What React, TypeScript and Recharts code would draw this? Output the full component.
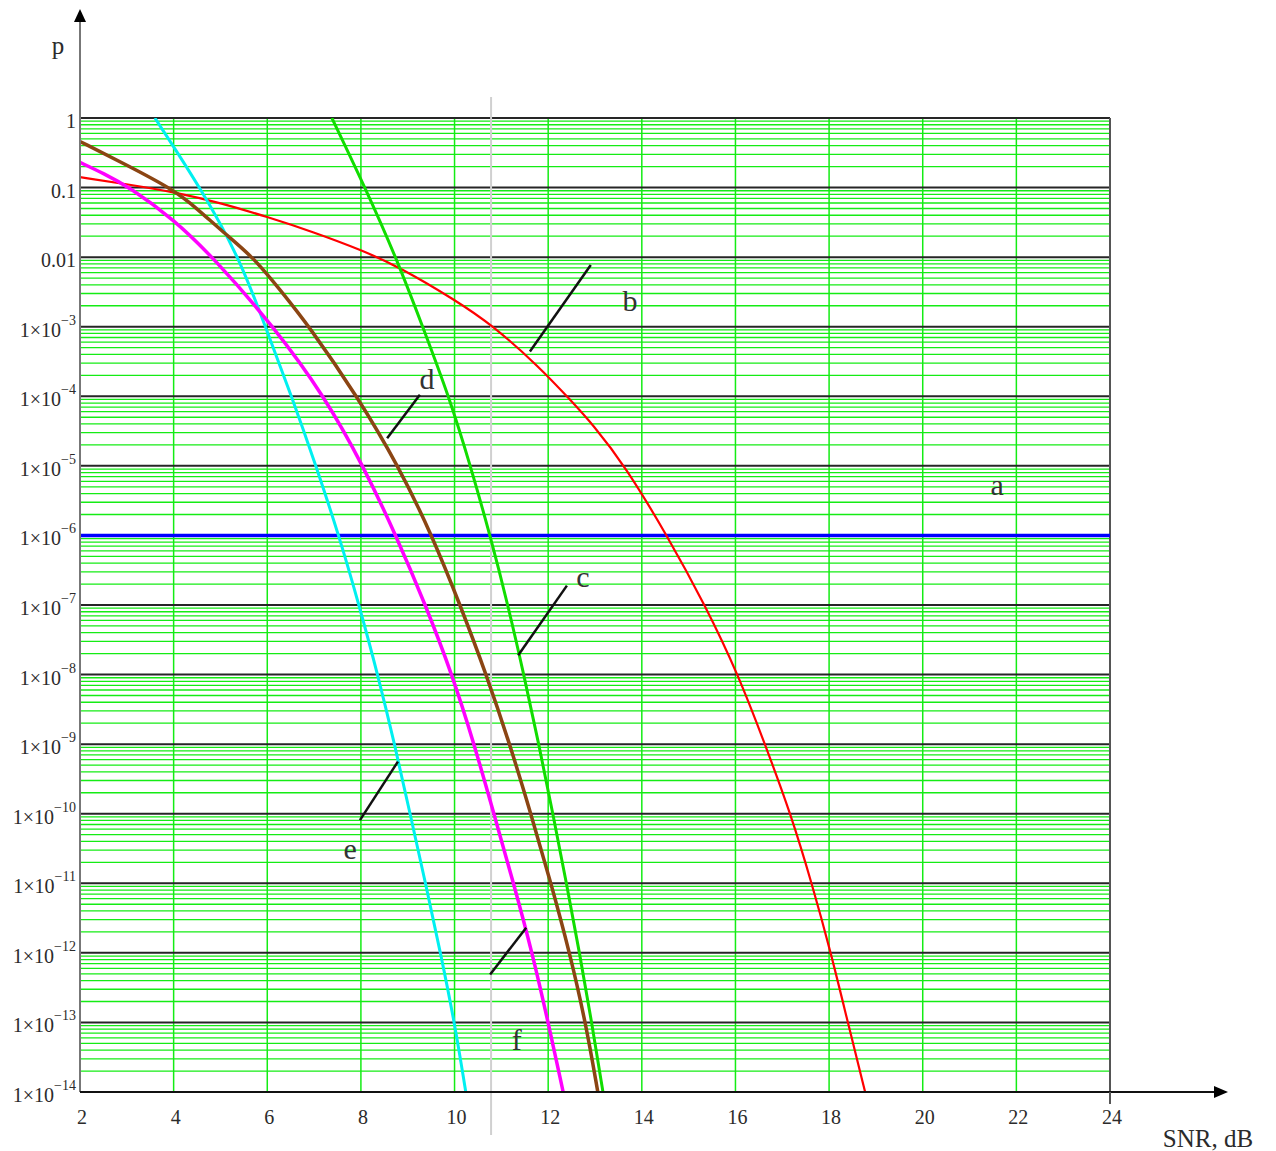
import React from "react";
import {
  LineChart,
  Line,
  XAxis,
  YAxis,
  CartesianGrid,
  ReferenceLine,
  ReferenceDot,
} from "recharts";

// chart size and plot box (page pixels)
const W = 1276;
const H = 1151;
const PLOT = { left: 80, top: 118, right: 1110, bottom: 1092 };
const XAXIS_H = 30;

const FONT = "'Liberation Serif', 'DejaVu Serif', serif";

// x ticks (SNR, dB)
const X_TICKS = [2, 4, 6, 8, 10, 12, 14, 16, 18, 20, 22, 24];

// y ticks (decades) and their labels [base, exponent]
const Y_TICKS = [1, 1e-1, 1e-2, 1e-3, 1e-4, 1e-5, 1e-6, 1e-7, 1e-8, 1e-9, 1e-10, 1e-11, 1e-12, 1e-13, 1e-14];
const Y_LABELS: [string, string][] = [
  ["1", ""], ["0.1", ""], ["0.01", ""],
  ["1×10", "−3"], ["1×10", "−4"], ["1×10", "−5"], ["1×10", "−6"],
  ["1×10", "−7"], ["1×10", "−8"], ["1×10", "−9"], ["1×10", "−10"],
  ["1×10", "−11"], ["1×10", "−12"], ["1×10", "−13"], ["1×10", "−14"],
];
const MINOR = [2, 3, 4, 5, 6, 7, 8, 9];

// curve a (red)
const SNR_A = [2, 3, 4.14, 5, 6, 6.98, 8.02, 8.84, 10, 10.8, 11.82, 12.47, 12.96, 13.64, 14.54, 15.35, 16.06, 16.63, 17.18, 17.63, 18.04, 18.4, 18.77];
const P_A = [1.41e-1, 1.12e-1, 8.3e-2, 6.0e-2, 3.8e-2, 2.3e-2, 1.26e-2, 7.1e-3, 2.45e-3, 1.07e-3, 2.6e-4, 8.9e-5, 3.9e-5, 1e-5, 1e-6, 1e-7, 1e-8, 1e-9, 1e-10, 1e-11, 1e-12, 1e-13, 1e-14];

// curve c (green)
const SNR_C = [7.38, 8.09, 8.75, 9.32, 9.88, 10.34, 10.76, 11.14, 11.48, 11.8, 12.1, 12.39, 12.67, 12.93, 13.17];
const P_C = [1, 1e-1, 1e-2, 1e-3, 1e-4, 1e-5, 1e-6, 1e-7, 1e-8, 1e-9, 1e-10, 1e-11, 1e-12, 1e-13, 1e-14];

// curve d (brown)
const SNR_D = [2, 3, 4, 4.5, 5.05, 5.7, 6.27, 6.9, 7.92, 8.8, 9.52, 10.12, 10.68, 11.18, 11.63, 12.06, 12.46, 12.8, 13.06];
const P_D = [4.6e-1, 2.1e-1, 9.3e-2, 5e-2, 2.3e-2, 1e-2, 3.4e-3, 1e-3, 1e-4, 1e-5, 1e-6, 1e-7, 1e-8, 1e-9, 1e-10, 1e-11, 1e-12, 1e-13, 1e-14];

// curve f (magenta)
const SNR_F = [2, 2.5, 3.07, 4, 4.84, 6.14, 7.22, 8.05, 8.75, 9.38, 9.95, 10.42, 10.84, 11.26, 11.66, 12.0, 12.32];
const P_F = [2.3e-1, 1.6e-1, 1e-1, 3.5e-2, 1e-2, 1e-3, 1e-4, 1e-5, 1e-6, 1e-7, 1e-8, 1e-9, 1e-10, 1e-11, 1e-12, 1e-13, 1e-14];

// curve e (cyan)
const SNR_E = [3.6, 4.57, 5.4, 5.96, 6.52, 7.04, 7.53, 7.96, 8.36, 8.72, 9.05, 9.38, 9.7, 10.0, 10.24];
const P_E = [1, 1e-1, 1e-2, 1e-3, 1e-4, 1e-5, 1e-6, 1e-7, 1e-8, 1e-9, 1e-10, 1e-11, 1e-12, 1e-13, 1e-14];

// required level (blue)
const SNR_REQ = [2, 24];
const P_REQ = [1e-6, 1e-6];

// curve labels and their pointer strokes
const LABELS = [
  { text: "a", snr: 21.59, p: 5.4e-6 },
  { text: "b", snr: 13.75, p: 2.4e-3 },
  { text: "c", snr: 12.74, p: 2.6e-7 },
  { text: "d", snr: 9.41, p: 1.8e-4 },
  { text: "e", snr: 7.77, p: 3.2e-11 },
  { text: "f", snr: 11.33, p: 5.6e-14 },
];
const POINTERS = [
  [[11.61, 4.4e-4], [12.91, 7.7e-3]],
  [[11.36, 1.9e-8], [12.4, 1.9e-7]],
  [[8.56, 2.5e-5], [9.26, 1.05e-4]],
  [[7.98, 8.1e-11], [8.79, 5.6e-10]],
  [[10.76, 4.9e-13], [11.53, 2.3e-12]],
];
const MARKER_SNR = 10.78;

const toRows = (xs: number[], ps: number[]) => xs.map((snr, i) => ({ snr, p: ps[i] }));

const minorLines = Y_TICKS.slice(1).flatMap((d) => MINOR.map((m) => m * d));

const YTick = (props: any) => {
  const { x, y, index } = props;
  const [base, exp] = Y_LABELS[index] ?? ["", ""];
  return (
    <text x={x + 4} y={y + 3} textAnchor="end" fontFamily={FONT} fontSize={20} fill="#2b2b2b" dominantBaseline="central">
      {base}
      {exp && (
        <tspan dy={-10} fontSize={14}>
          {exp}
        </tspan>
      )}
    </text>
  );
};

const XTick = (props: any) => {
  const { x, y, payload } = props;
  return (
    <text x={x + 2} y={y + 24} textAnchor="middle" fontFamily={FONT} fontSize={20} fill="#2b2b2b">
      {payload.value}
    </text>
  );
};

export default function App() {
  return (
    <div style={{ position: "absolute", left: 0, top: 0, width: W, height: H, background: "#fff" }}>
      <LineChart
        width={W}
        height={H}
        margin={{ top: PLOT.top, right: W - PLOT.right, bottom: H - PLOT.bottom - XAXIS_H, left: 0 }}
      >
        <CartesianGrid horizontal={false} stroke="#14ec14" strokeWidth={1.5} />
        <XAxis
          type="number"
          dataKey="snr"
          domain={[2, 24]}
          ticks={X_TICKS}
          interval={0}
          allowDataOverflow
          axisLine={false}
          tickLine={false}
          height={XAXIS_H}
          tick={<XTick />}
        />
        <YAxis
          type="number"
          scale="log"
          domain={[1e-14, 1]}
          ticks={Y_TICKS}
          interval={0}
          allowDataOverflow
          axisLine={false}
          tickLine={false}
          width={PLOT.left}
          tick={<YTick />}
        />
        {minorLines.map((v) => (
          <ReferenceLine key={"m" + v} y={v} stroke="#14ec14" strokeWidth={1.3} />
        ))}
        {Y_TICKS.map((v) => (
          <ReferenceLine key={"M" + v} y={v} stroke="#262626" strokeWidth={2} />
        ))}
        <ReferenceLine x={2} stroke="#777" strokeWidth={2} />
        <ReferenceLine x={24} stroke="#555" strokeWidth={2} />
        <ReferenceLine
          segment={[{ x: MARKER_SNR, y: 2 }, { x: MARKER_SNR, y: 2.4e-15 }]}
          ifOverflow="visible"
          stroke="#d0d0d0"
          strokeWidth={2}
        />

        <Line data={toRows(SNR_REQ, P_REQ)} dataKey="p" stroke="#0000ff" strokeWidth={3.5} dot={false} isAnimationActive={false} />
        <Line data={toRows(SNR_A, P_A)} dataKey="p" type="basis" stroke="#ff0000" strokeWidth={2.2} dot={false} isAnimationActive={false} />
        <Line data={toRows(SNR_C, P_C)} dataKey="p" type="basis" stroke="#11dd00" strokeWidth={3} dot={false} isAnimationActive={false} />
        <Line data={toRows(SNR_E, P_E)} dataKey="p" type="basis" stroke="#00f0f0" strokeWidth={3} dot={false} isAnimationActive={false} />
        <Line data={toRows(SNR_F, P_F)} dataKey="p" type="basis" stroke="#ff00ff" strokeWidth={3.5} dot={false} isAnimationActive={false} />
        <Line data={toRows(SNR_D, P_D)} dataKey="p" type="basis" stroke="#8b4513" strokeWidth={3.5} dot={false} isAnimationActive={false} />

        {POINTERS.map((seg, i) => (
          <ReferenceLine
            key={"ptr" + i}
            segment={[{ x: seg[0][0], y: seg[0][1] }, { x: seg[1][0], y: seg[1][1] }]}
            stroke="#111"
            strokeWidth={2.5}
          />
        ))}
        {LABELS.map((l) => (
          <ReferenceDot
            key={l.text}
            x={l.snr}
            y={l.p}
            r={0}
            shape={(p: any) => (
              <text x={p.cx} y={p.cy} textAnchor="middle" dominantBaseline="central" fontFamily={FONT} fontSize={30} fill="#333">
                {l.text}
              </text>
            )}
          />
        ))}
      </LineChart>

      {/* axes with arrows */}
      <svg width={W} height={H} style={{ position: "absolute", left: 0, top: 0, pointerEvents: "none" }}>
        <line x1={PLOT.left} y1={20} x2={PLOT.left} y2={PLOT.bottom} stroke="#777" strokeWidth={2} />
        <polygon points={`${PLOT.left - 6},${22} ${PLOT.left + 6},${22} ${PLOT.left},${9}`} fill="#000" />
        <line x1={PLOT.left} y1={PLOT.bottom} x2={1218} y2={PLOT.bottom} stroke="#111" strokeWidth={2} />
        <polygon points={`${1214},${PLOT.bottom - 6} ${1214},${PLOT.bottom + 6} ${1228},${PLOT.bottom}`} fill="#000" />
        <line x1={PLOT.right} y1={PLOT.bottom} x2={PLOT.right} y2={PLOT.bottom + 12} stroke="#555" strokeWidth={2} />
        <text x={58} y={45} textAnchor="middle" dominantBaseline="central" fontFamily={FONT} fontSize={25} fill="#2b2b2b">
          p
        </text>
        <text x={1208} y={1138} textAnchor="middle" dominantBaseline="central" fontFamily={FONT} fontSize={25} fill="#2b2b2b">
          SNR, dB
        </text>
      </svg>
    </div>
  );
}
